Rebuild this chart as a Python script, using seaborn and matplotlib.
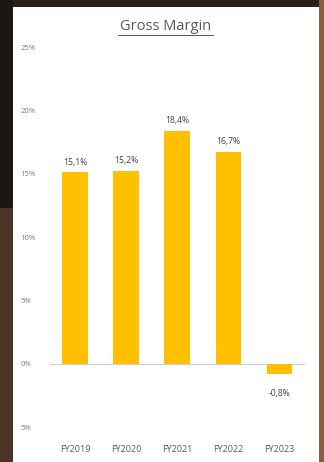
import matplotlib
matplotlib.use("Agg")
import matplotlib.pyplot as plt
import matplotlib.patches as mpatches
import seaborn as sns
import pandas as pd

categories = ["FY2019", "FY2020", "FY2021", "FY2022", "FY2023"]
gross_margin = [15.1, 15.2, 18.4, 16.7, -0.8]
value_labels = ["15,1%", "15,2%", "18,4%", "16,7%", "-0,8%"]
y_ticks = [-5, 0, 5, 10, 15, 20, 25]
y_tick_labels = ["5%", "0%", "5%", "10%", "15%", "20%", "25%"]
title = "Gross Margin"

sns.set_theme(style="white")
plt.rcParams['font.family'] = ['Open Sans', 'DejaVu Sans']

df = pd.DataFrame({"cat": categories, "val": gross_margin})

fig = plt.figure(figsize=(3.24, 4.62), dpi=100)
fig.patch.set_facecolor("#2b201a")
# background strips
fig.add_artist(mpatches.Rectangle((0, 0), 13/324, 1, transform=fig.transFigure,
                                  facecolor="#4a3526", edgecolor="none", zorder=-3))
fig.add_artist(mpatches.Rectangle((0, 0.55), 13/324, 0.45, transform=fig.transFigure,
                                  facecolor="#1c1715", edgecolor="none", zorder=-3))
fig.add_artist(mpatches.Rectangle((319/324, 0), 5/324, 1, transform=fig.transFigure,
                                  facecolor="#8a5e3e", edgecolor="none", zorder=-3))
fig.add_artist(mpatches.Rectangle((13/324, 0), 306/324, 1 - 7/462, transform=fig.transFigure,
                                  facecolor="white", edgecolor="none", zorder=-2))

ax = fig.add_axes([49.5/324, 1 - 427/462, (305 - 49.5)/324, 380/462])
ax.set_zorder(2)
ax.set_facecolor("none")
sns.barplot(data=df, x="cat", y="val", color="#FFC000", width=0.5, ax=ax,
            saturation=1, edgecolor="none")
ax.set_xlim(-0.5, 4.5)
ax.set_ylim(-5, 25)
for s in ax.spines.values():
    s.set_visible(False)
ax.axhline(0, color="#c8d0e0", lw=0.8, zorder=0)
ax.set_yticks(y_ticks)
ax.set_yticklabels(y_tick_labels, fontsize=5.5, color="#7a7a7a")
for lab in ax.get_yticklabels():
    lab.set_horizontalalignment("left")
ax.tick_params(axis="y", pad=21, length=0)
ax.tick_params(axis="x", length=0, pad=13, labelsize=6.5, labelcolor="#595959")
ax.set_xlabel("")
ax.set_ylabel("")

for i, (v, t) in enumerate(zip(gross_margin, value_labels)):
    if v >= 0:
        ax.text(i, v + 0.45, t, ha="center", va="bottom", fontsize=6.2, color="#404040")
    else:
        ax.text(i, v - 1.2, t, ha="center", va="top", fontsize=6.2, color="#404040")

fig.text(166/324, 1 - 27/462, title, ha="center", va="center", fontsize=10.5,
         color="#595959", zorder=3)
fig.add_artist(plt.Line2D([118/324, 213/324], [1 - 35/462, 1 - 35/462],
                          transform=fig.transFigure, color="#595959", lw=0.7, zorder=3))

fig.savefig("out.png", dpi=100, facecolor=fig.get_facecolor())
